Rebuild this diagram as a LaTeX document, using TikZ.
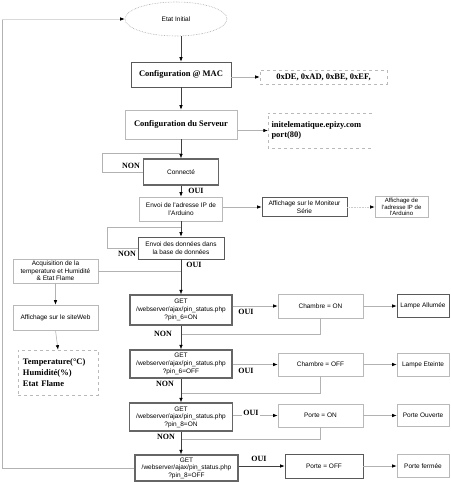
\documentclass[tikz,border=0pt]{standalone}
\usepackage{fontspec}
\setmainfont{Liberation Serif}
\setsansfont{Liberation Sans}
\usetikzlibrary{arrows.meta,shapes.geometric,calc}
\begin{document}
\begin{tikzpicture}[x=1pt,y=-1pt,
  sfont/.style={font=\sffamily\fontsize{6.5}{7.6}\selectfont},
  bfont/.style={font=\bfseries\fontsize{8.5}{10.5}\selectfont},
  sbox/.style={draw=gray!55,line width=0.6pt,inner sep=1pt,align=center,sfont},
  dbox/.style={sbox,draw=black!65},
  tbox/.style={sbox,draw=black!60,line width=1.3pt},
  lab/.style={font=\bfseries\fontsize{8}{9}\selectfont,inner sep=1pt},
  ln/.style={draw=gray!60,line width=0.6pt},
  arr/.style={ln,-{Latex[length=4.5pt,width=3.5pt,color=black]}},
  darr/.style={arr,draw=black!75}]
\useasboundingbox (0,0) rectangle (450,482);

% top
\node[ellipse,draw=gray!70,densely dotted,line width=0.6pt,minimum width=102pt,minimum height=34pt,inner sep=0pt,sfont] (ell) at (176,19) {Etat Initial};
\node[dbox,bfont,minimum width=100pt,minimum height=25pt] (mac) at (181,74.5) {Configuration @ MAC};
\node[draw=gray!55,dashed,line width=0.6pt,bfont,minimum width=127pt,minimum height=14pt,inner sep=0pt] (macv) at (323.5,77) {0xDE, 0xAD, 0xBE, 0xEF,};
\node[sbox,bfont,minimum width=112pt,minimum height=29pt] (serv) at (181,124.5) {Configuration du Serveur};
\node[bfont,text width=97pt,align=left,minimum width=104pt,minimum height=35pt,inner sep=0pt] (srv) at (320,130.5) {initelematique.epizy.com\\port(80)};
\draw[draw=gray!55,dashed,line width=0.6pt] (srv.north east) -- (srv.north west) -- (srv.south west) -- (srv.south east);

\draw[darr] (ell.south -| mac.north) -- (mac.north);
\draw[arr] (mac.east |- macv.west) -- (macv.west);
\draw[darr] (mac.south) -- (serv.north);
\draw[arr] (serv.east |- srv.west) -- (srv.west);

% connecte
\node[tbox,minimum width=75pt,minimum height=26pt] (conn) at (181,172) {Connecté};
\draw[darr] (serv.south) -- (conn.north);
\draw[ln] (conn.west) -- (102,172) -- (102,153) -- (181,153);
\node[lab] (non1) at (131,166) {NON};

\node[sbox,minimum width=83pt,minimum height=24pt] (ip) at (181,209) {Envoi de l'adresse IP de\\l'Arduino};
\draw[darr] (conn.south) -- (ip.north);
\node[lab] (oui1) at (196,191) {OUI};
\node[dbox,minimum width=85pt,minimum height=19pt] (mon) at (304.5,207) {Affichage sur le Moniteur\\Série};
\node[sbox,font=\sffamily\fontsize{6}{6.8}\selectfont,minimum width=53pt,minimum height=21pt,inner sep=0pt] (aip) at (401.5,207) {Affichage de\\l'adresse IP de\\l'Arduino};
\draw[arr] (ip.east |- mon.west) -- (mon.west);
\draw[arr,draw=gray!40,densely dotted] (mon.east) -- (aip.west);

\node[dbox,minimum width=86pt,minimum height=22pt] (data) at (181,248) {Envoi des données dans\\la base de données};
\draw[darr] (ip.south) -- (data.north);
\draw[ln] (data.west) -- (107,248) -- (107,227) -- (181,227);
\node[lab] (non2) at (127,254) {NON};

% left column
\node[sbox,minimum width=85pt,minimum height=24pt] (acq) at (55.5,271) {Acquisition de la\\temperature et Humidité\\\& Etat Flame};
\node[sbox,minimum width=85pt,minimum height=25pt] (web) at (55.5,317.5) {Affichage sur le siteWeb};
\node[draw=gray!55,dashed,line width=0.6pt,font=\bfseries\fontsize{8.5}{11}\selectfont,align=left,minimum width=80pt,minimum height=45pt,text width=70pt] (temp) at (58,372.5) {Temperature(°C)\\Humidité(\%)\\Etat Flame};
\draw[ln] (acq.east) -- (181,271);
\draw[arr] (acq.south) -- (web.north);
\draw[arr] (web.south) -- (temp.north);

% GET 1
\node[tbox,minimum width=102pt,minimum height=30pt] (get1) at (181,310) {GET\\/webserver/ajax/pin\_status.php\\?pin\_6=ON};
\draw[darr] (data.south) -- (get1.north);
\node[lab] (oui2) at (194,265) {OUI};
\node[sbox,minimum width=85pt,minimum height=24pt] (ch1) at (320.5,306) {Chambre = ON};
\node[dbox,minimum width=52pt,minimum height=23pt] (la) at (423,306) {Lampe Allumée};
\draw[arr] (get1.east |- ch1.west) -- (ch1.west);
\node[lab,fill=white] (oui3) at (246,312) {OUI};
\draw[arr] (ch1.east) -- (la.west);
\draw[ln] (ch1.south) |- (181,334);
\node[lab] (non3) at (163,334) {NON};

% GET 2
\node[tbox,minimum width=102pt,minimum height=28pt] (get2) at (181,364) {GET\\/webserver/ajax/pin\_status.php\\?pin\_6=OFF};
\draw[darr] (get1.south) -- (get2.north);
\node[sbox,minimum width=85pt,minimum height=23pt] (ch2) at (320.5,364.5) {Chambre = OFF};
\node[sbox,minimum width=52pt,minimum height=23pt] (le) at (423,364.5) {Lampe Eteinte};
\draw[arr] (get2.east |- ch2.west) -- (ch2.west);
\node[lab,fill=white] (oui4) at (246,371) {OUI};
\draw[arr] (ch2.east) -- (le.west);
\draw[ln] (ch2.south) |- (181,393);
\node[lab] (non4) at (165,384) {NON};

% GET 3
\node[tbox,minimum width=103pt,minimum height=28pt] (get3) at (181,417) {GET\\/webserver/ajax/pin\_status.php\\?pin\_8=ON};
\draw[darr] (get2.south) -- (get3.north);
\node[sbox,minimum width=85pt,minimum height=23pt] (po) at (320.5,415.5) {Porte = ON};
\node[sbox,minimum width=52pt,minimum height=22pt] (pov) at (423,415.5) {Porte Ouverte};
\draw[arr] (get3.east |- po.west) -- (po.west);
\node[lab,fill=white] (oui5) at (251,413) {OUI};
\draw[arr] (po.east) -- (pov.west);
\draw[ln] (po.south) |- (181,439);
\node[lab] (non5) at (166,437) {NON};

% GET 4
\node[tbox,minimum width=103pt,minimum height=26pt] (get4) at (186.5,468) {GET\\/webserver/ajax/pin\_status.php\\?pin\_8=OFF};
\draw[darr] (get3.south) -- (get3.south |- get4.north);
\node[dbox,minimum width=78pt,minimum height=24pt] (pf) at (324,466) {Porte = OFF};
\node[sbox,minimum width=52pt,minimum height=23pt] (pfe) at (423,466) {Porte fermée};
\draw[darr] (get4.east |- pf.west) -- (pf.west);
\node[lab] (oui6) at (259,459) {OUI};
\draw[arr] (pf.east) -- (pfe.west);

% loop back
\coordinate (lb) at (2,468);
\coordinate (lt) at (2,19);
\draw[ln,line width=0.8pt] (get4.west) -- (lb) -- (lt);
\draw[arr,draw=gray!30] (lt) -- (ell.west);
\end{tikzpicture}
\end{document}
